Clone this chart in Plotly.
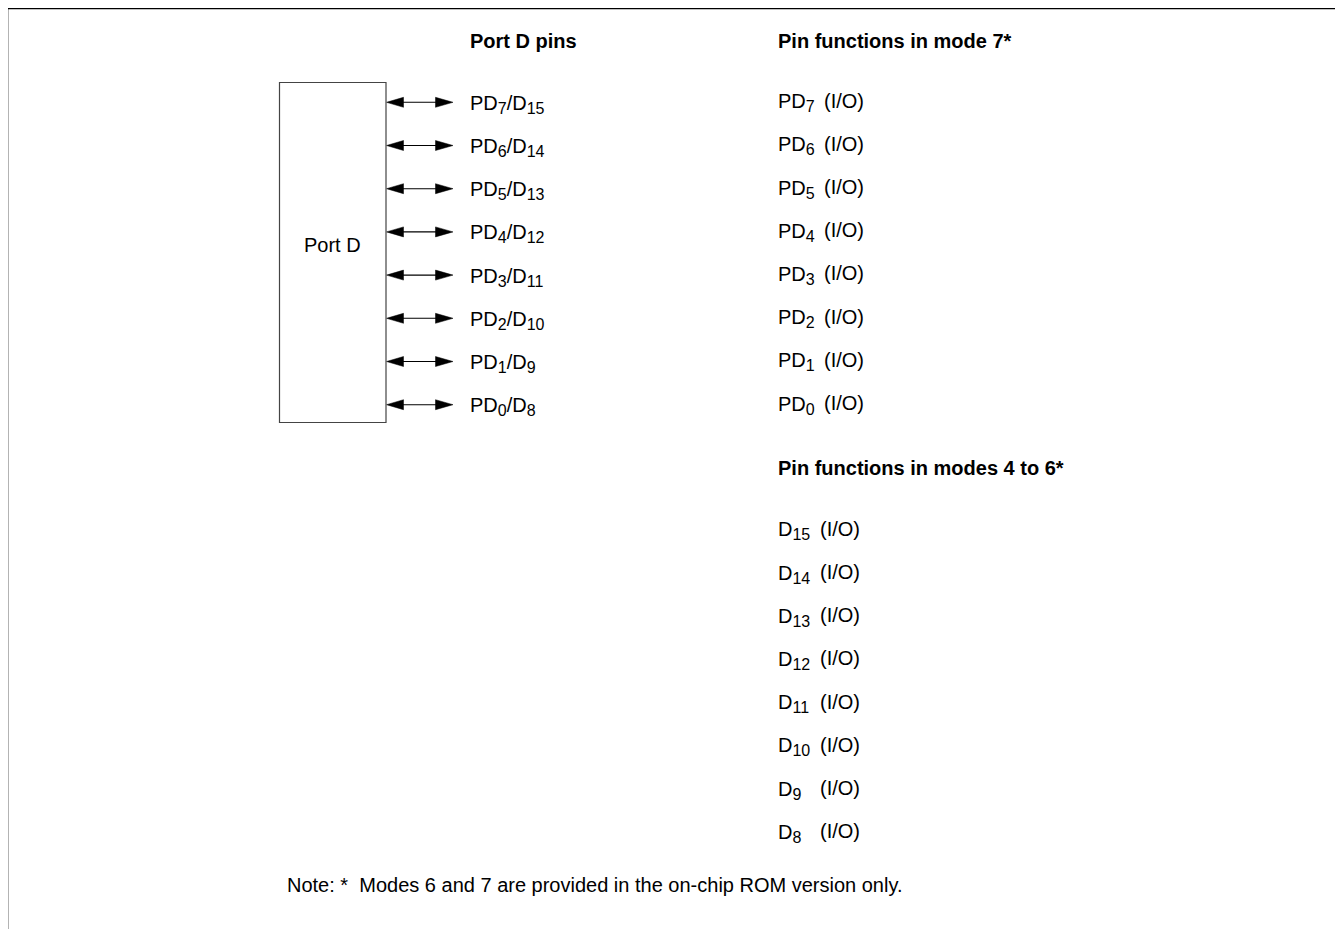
import plotly.graph_objects as go

W, H = 1343, 929
PAGE_MARGIN = 8  # default body margin of the html page
INK = "#000000"
BOX = "#444444"
FONT = "Liberation Sans, Arial, sans-serif"

# pin numbering, top to bottom
pd_bits = [7, 6, 5, 4, 3, 2, 1, 0]
d_bits = [15, 14, 13, 12, 11, 10, 9, 8]
io_text = "(I/O)"

title_pins = "Port D pins"
title_mode7 = "Pin functions in mode 7*"
title_mode46 = "Pin functions in modes 4 to 6*"
box_label = "Port D"
note_text = "Note: *  Modes 6 and 7 are provided in the on-chip ROM version only."

# layout of the drawing (pixel-like units, y grows downward)
ROW_STEP = 43.2
LEFT_Y0 = 102.3
MODE7_Y0 = 100.6
MODE46_Y0 = 528.8
BOX_X0, BOX_X1, BOX_Y0, BOX_Y1 = 279.5, 386, 82.5, 422.5
ARROW_X1 = 453
HEAD_LEN, HEAD_HALF = 17.5, 5
TEXT_SHIFT = 2.0  # moves the label box so caps sit on the row

left_rows = [LEFT_Y0 + i * ROW_STEP for i in range(len(pd_bits))]
mode7_rows = [MODE7_Y0 + i * ROW_STEP for i in range(len(pd_bits))]
mode46_rows = [MODE46_Y0 + i * ROW_STEP for i in range(len(d_bits))]


def sub(n):
    return f"<sub><span style='font-size:16px'>{n}</span></sub>"


fig = go.Figure()

# arrow shafts
sx, sy = [], []
for y in left_rows:
    sx += [BOX_X1 + HEAD_LEN - 1, ARROW_X1 - HEAD_LEN + 1, None]
    sy += [y, y, None]
fig.add_scatter(x=sx, y=sy, mode="lines", line=dict(color=INK, width=1.1),
                hoverinfo="skip", showlegend=False)

# arrow heads (both ends)
hx, hy = [], []
for y in left_rows:
    hx += [BOX_X1 + 0.5, BOX_X1 + HEAD_LEN, BOX_X1 + HEAD_LEN, BOX_X1 + 0.5, None]
    hy += [y, y - HEAD_HALF, y + HEAD_HALF, y, None]
    hx += [ARROW_X1, ARROW_X1 - HEAD_LEN, ARROW_X1 - HEAD_LEN, ARROW_X1, None]
    hy += [y, y - HEAD_HALF, y + HEAD_HALF, y, None]
fig.add_scatter(x=hx, y=hy, mode="lines", fill="toself", fillcolor=INK,
                line=dict(color=INK, width=0.5), hoverinfo="skip", showlegend=False)

# port box and the open frame
fig.add_shape(type="rect", x0=BOX_X0, x1=BOX_X1, y0=BOX_Y0, y1=BOX_Y1,
              line=dict(color=BOX, width=1.2))
fig.add_shape(type="line", x0=7.5, x1=W, y0=8.5, y1=8.5, line=dict(color=INK, width=1.6))
fig.add_shape(type="line", x0=7.5, x1=7.5, y0=8.5, y1=H, line=dict(color=INK, width=1.6))


def label(x, y, text, bold=False, anchor="left"):
    fig.add_annotation(
        x=x, y=y, text=f"<b>{text}</b>" if bold else text, showarrow=False,
        xanchor=anchor, yanchor="middle", font=dict(family=FONT, size=20, color=INK),
    )


label(BOX_X0 + (BOX_X1 - BOX_X0) / 2, 244.7, box_label, anchor="center")
label(468, 40.5, title_pins, bold=True)
label(776, 40.5, title_mode7, bold=True)
label(776, 468.3, title_mode46, bold=True)
label(285, 884.5, note_text)

for y, pd, d in zip(left_rows, pd_bits, d_bits):
    label(468, y + TEXT_SHIFT, f"PD{sub(pd)}/D{sub(d)}")

for y, pd in zip(mode7_rows, pd_bits):
    label(776, y + TEXT_SHIFT, f"PD{sub(pd)}")
    label(822, y, io_text)

for y, d in zip(mode46_rows, d_bits):
    label(776, y + TEXT_SHIFT, f"D{sub(d)}")
    label(818, y, io_text)

fig.update_layout(
    width=W - PAGE_MARGIN, height=H - PAGE_MARGIN,
    margin=dict(l=0, r=0, t=0, b=0),
    paper_bgcolor="white", plot_bgcolor="white",
    showlegend=False,
)
# the page puts the figure 8px in from the corner, so the ranges start there
fig.update_xaxes(range=[PAGE_MARGIN, W], visible=False, fixedrange=True)
fig.update_yaxes(range=[H, PAGE_MARGIN], visible=False, fixedrange=True)

fig.write_html("out.html", config={"displayModeBar": False})
